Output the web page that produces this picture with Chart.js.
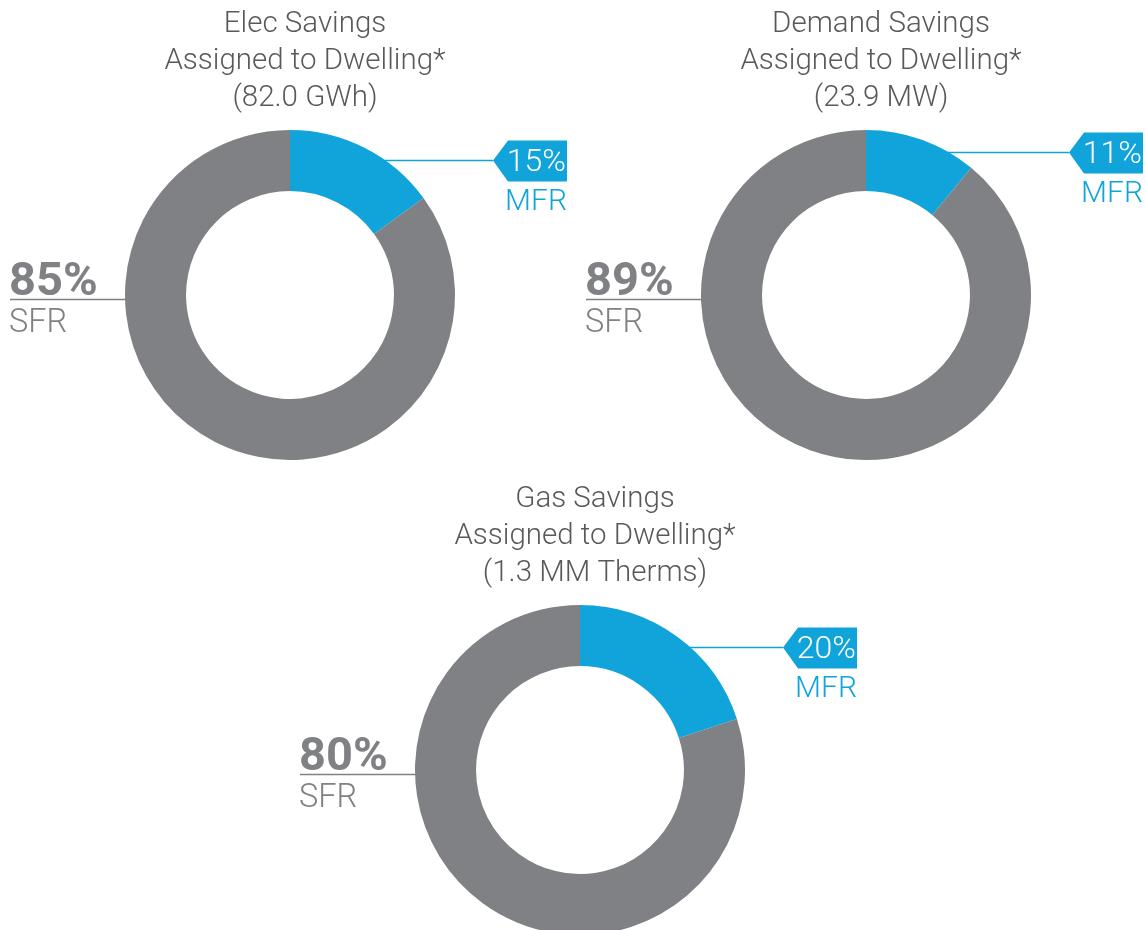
<!DOCTYPE html>
<html>
<head>
<meta charset="utf-8">
<script src="https://cdn.jsdelivr.net/npm/chart.js@4"></script>
<style>
  html, body { margin: 0; padding: 0; background: #fff; }
  body { width: 1146px; height: 930px; overflow: hidden; position: relative; }
  canvas { position: absolute; }
</style>
</head>
<body>
<canvas id="c0" width="573" height="465" style="left:0;top:0"></canvas>
<canvas id="c1" width="573" height="465" style="left:573px;top:0"></canvas>
<canvas id="c2" width="1146" height="480" style="left:0;top:465px"></canvas>
<script>
// data
var categories = ['MFR', 'SFR'];
var titleLines = [
  ['Elec Savings', 'Assigned to Dwelling*', '(82.0 GWh)'],
  ['Demand Savings', 'Assigned to Dwelling*', '(23.9 MW)'],
  ['Gas Savings', 'Assigned to Dwelling*', '(1.3 MM Therms)']
];
var mfrShare = [15, 11, 20];
var sfrShare = [85, 89, 80];

var BLUE = '#10a4db';
var GREY = '#808184';
var TITLE = '#58595b';
var FONT = 'Roboto, "DejaVu Sans", sans-serif';

// where each doughnut sits inside its canvas (center x, y)
var centers = [[290, 295], [293, 295], [580, 305]];
var R = 165;

var labelPlugin = {
  id: 'calloutLabels',
  afterDraw: function(chart) {
    var ctx = chart.ctx;
    var idx = chart.options.plugins.calloutLabels.index;
    var meta = chart.getDatasetMeta(0);
    var a = meta.data[0].getProps(['x', 'y', 'startAngle', 'endAngle', 'outerRadius']);
    var cx = a.x, cy = a.y, r = a.outerRadius;
    ctx.save();

    // title
    ctx.fillStyle = TITLE;
    ctx.font = '300 29.5px ' + FONT;
    ctx.textAlign = 'center';
    ctx.textBaseline = 'middle';
    titleLines[idx].forEach(function(t, i) {
      ctx.fillText(t, cx + 15, cy - 270 + i * 37);
    });

    // MFR callout
    var mid = (a.startAngle + a.endAngle) / 2;
    var ly = Math.round(cy + Math.sin(mid) * r * 0.921) + 0.5;
    var dy = ly - cy;
    var lx0 = cx + Math.sqrt(r * r - dy * dy);
    var tx = cx + 203;
    ctx.strokeStyle = BLUE;
    ctx.lineWidth = 1.5;
    ctx.beginPath();
    ctx.moveTo(lx0 - 2, ly);
    ctx.lineTo(tx, ly);
    ctx.stroke();
    ctx.fillStyle = BLUE;
    ctx.beginPath();
    ctx.moveTo(tx, ly);
    ctx.lineTo(tx + 15, ly - 20);
    ctx.lineTo(tx + 74, ly - 20);
    ctx.lineTo(tx + 74, ly + 21);
    ctx.lineTo(tx + 15, ly + 21);
    ctx.closePath();
    ctx.fill();
    ctx.fillStyle = '#fff';
    ctx.font = '300 32px ' + FONT;
    ctx.textAlign = 'right';
    ctx.textBaseline = 'middle';
    ctx.fillText(mfrShare[idx] + '%', tx + 73, ly + 2);
    ctx.fillStyle = BLUE;
    ctx.font = '300 30px ' + FONT;
    ctx.textBaseline = 'alphabetic';
    ctx.fillText(categories[0], tx + 74, ly + 49);

    // SFR callout
    var sy = cy + 4.5;
    var sdy = sy - cy;
    var sx1 = cx - Math.sqrt(r * r - sdy * sdy);
    ctx.strokeStyle = GREY;
    ctx.lineWidth = 1.5;
    ctx.beginPath();
    ctx.moveTo(cx - 280, sy);
    ctx.lineTo(sx1 + 2, sy);
    ctx.stroke();
    ctx.fillStyle = GREY;
    ctx.textAlign = 'left';
    ctx.font = 'bold 47px ' + FONT;
    ctx.fillText(sfrShare[idx] + '%', cx - 281, cy);
    ctx.font = '300 32.5px ' + FONT;
    ctx.fillText(categories[1], cx - 281, cy + 37);
    ctx.restore();
  }
};

['c0', 'c1', 'c2'].forEach(function(id, i) {
  var canvas = document.getElementById(id);
  var W = canvas.width, H = canvas.height;
  var cx = centers[i][0], cy = centers[i][1];
  new Chart(canvas, {
    type: 'doughnut',
    data: {
      labels: categories,
      datasets: [{
        data: [mfrShare[i], sfrShare[i]],
        backgroundColor: [BLUE, GREY],
        borderWidth: 0,
        hoverOffset: 0,
        offset: 0
      }]
    },
    options: {
      responsive: false,
      animation: false,
      cutout: '63%',
      layout: {
        padding: { left: cx - R, top: cy - R, right: W - cx - R, bottom: H - cy - R }
      },
      plugins: {
        legend: { display: false },
        tooltip: { enabled: false },
        calloutLabels: { index: i }
      }
    },
    plugins: [labelPlugin]
  });
});
</script>
</body>
</html>
